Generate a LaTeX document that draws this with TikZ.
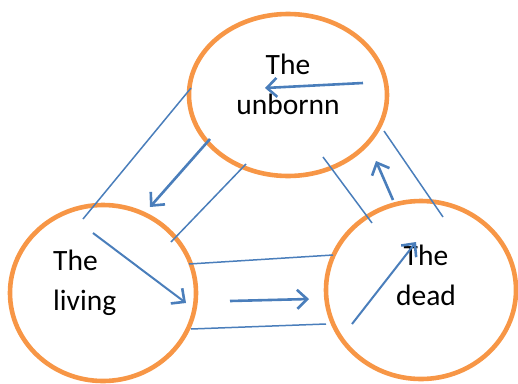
\documentclass[tikz,border=0pt]{standalone}
\usepackage{fontspec}
\setmainfont{Carlito}
\usetikzlibrary{arrows.meta,shapes.geometric}
\definecolor{lifeorange}{HTML}{F79646}
\definecolor{lineblue}{HTML}{4A7EBB}
\tikzset{
  world/.style={draw=lifeorange,line width=4.6pt,ellipse,inner sep=0pt},
  label/.style={font=\fontsize{29.5}{40}\selectfont,inner sep=0pt},
  thin line/.style={draw=lineblue,line width=1.5pt},
  flow/.style={draw=lineblue,line width=2.6pt,-{Straight Barb[length=10pt,width=19pt,line width=2.6pt]}},
}

\begin{document}
\begin{tikzpicture}[x=1pt,y=-1pt]
\useasboundingbox (0,0) rectangle (518,383);
% the three worlds
\node[world,minimum width=198pt,minimum height=162pt] (unborn) at (288,95) {};
\node[world,minimum width=186pt,minimum height=176pt] (living) at (103,293) {};
\node[world,minimum width=190pt,minimum height=178pt] (dead) at (421,290) {};
\node[label,align=center,anchor=base] (unbornText) at (288,114) {The\\unbornn};
\node[label,align=left,anchor=base west] (livingText) at (53,310) {The\\living};
\node[label,align=center,anchor=base] (deadText) at (426,305) {The\\dead};
% end points of the strokes
\coordinate (u1) at (363,83);  \coordinate (u2) at (265,88);
\coordinate (a1) at (191,88);  \coordinate (a2) at (83,219);
\coordinate (b1) at (210,139); \coordinate (b2) at (150,207);
\coordinate (c1) at (246,164); \coordinate (c2) at (171,242);
\coordinate (l1) at (93,233);  \coordinate (l2) at (186,303);
\coordinate (d1) at (189,264); \coordinate (d2) at (333,255);
\coordinate (e1) at (230,301); \coordinate (e2) at (309,299);
\coordinate (f1) at (191,329); \coordinate (f2) at (326,324);
\coordinate (g1) at (352,324); \coordinate (g2) at (416,242);
\coordinate (h1) at (323,157); \coordinate (h2) at (372,223);
\coordinate (k1) at (393,200); \coordinate (k2) at (376,161);
\coordinate (m1) at (384,131); \coordinate (m2) at (443,217);
% strokes
\draw[flow] (u1) -- (u2);
\draw[thin line] (a1) -- (a2);
\draw[flow] (b1) -- (b2);
\draw[thin line] (c1) -- (c2);
\draw[flow,line width=2pt] (l1) -- (l2);
\draw[thin line] (d1) -- (d2);
\draw[flow] (e1) -- (e2);
\draw[thin line] (f1) -- (f2);
\draw[flow,line width=2pt] (g1) -- (g2);
\draw[thin line] (h1) -- (h2);
\draw[flow] (k1) -- (k2);
\draw[thin line] (m1) -- (m2);
\end{tikzpicture}
\end{document}
